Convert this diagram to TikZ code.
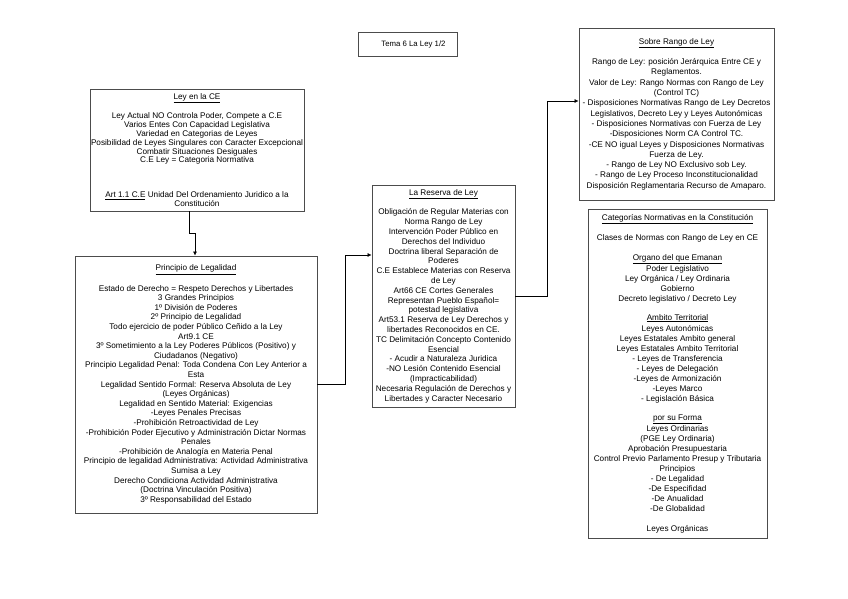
\documentclass[tikz,border=0pt]{standalone}
\usepackage{fontspec}
\setmainfont{Liberation Sans}
\usetikzlibrary{arrows.meta}

\tikzset{
  box/.style={draw=black!70, line width=0.9pt, align=center, inner xsep=0pt, inner ysep=1pt},
  link/.style={draw=black, line width=0.6pt, -{Latex[length=4pt,width=4pt]}}
}

\begin{document}
\begin{tikzpicture}[x=1pt,y=-1pt]
\useasboundingbox (0,0) rectangle (848,599);

\node[box, minimum width=99pt, minimum height=24pt, font=\fontsize{7.8}{9}\selectfont] (tema) at (407.5,44) {\hspace*{12pt}Tema 6 La Ley 1/2};

\node[box, minimum width=214pt, minimum height=122pt, font=\fontsize{8.2}{8.8}\selectfont] (ley) at (197,150) {\underline{Ley en la CE}\\[8.8pt]
Ley Actual NO Controla Poder, Compete a C.E\\
Varios Entes Con Capacidad Legislativa\\
Variedad en Categorias de Leyes\\
Posibilidad de Leyes Singulares con Caracter Excepcional\\
Combatir Situaciones Desiguales\\
C.E Ley = Categoria Normativa\\[26pt]
\underline{Art 1.1 C.E} Unidad Del Ordenamiento Juridico a la\\
Constitución};

\node[box, minimum width=242pt, minimum height=257pt, font=\fontsize{8.2}{9.6}\selectfont] (prin) at (196,384.5) {\underline{Principio de Legalidad}\\[9.6pt]
Estado de Derecho = Respeto Derechos y Libertades\\
3 Grandes Principios\\
1º División de Poderes\\
2º Principio de Legalidad\\
Todo ejercicio de poder Público Ceñido a la Ley\\
Art9.1 CE\\
3º Sometimiento a la Ley Poderes Públicos (Positivo) y\\
Ciudadanos (Negativo)\\
Principio Legalidad Penal: Toda Condena Con Ley Anterior a\\
Esta\\
Legalidad Sentido Formal: Reserva Absoluta de Ley\\
(Leyes Orgánicas)\\
Legalidad en Sentido Material: Exigencias\\
-Leyes Penales Precisas\\
-Prohibición Retroactividad de Ley\\
-Prohibición Poder Ejecutivo y Administración Dictar Normas\\
Penales\\
-Prohibición de Analogía en Materia Penal\\
Principio de legalidad Administrativa: Actividad Administrativa\\
Sumisa a Ley\\
Derecho Condiciona Actividad Administrativa\\
(Doctrina Vinculación Positiva)\\
3º Responsabilidad del Estado};

\node[box, minimum width=143pt, minimum height=222pt, font=\fontsize{8.2}{9.8}\selectfont] (res) at (443.5,296) {\underline{La Reserva de Ley}\\[9.8pt]
Obligación de Regular Materias con\\
Norma Rango de Ley\\
Intervención Poder Público en\\
Derechos del Individuo\\
Doctrina liberal Separación de\\
Poderes\\
C.E Establece Materias con Reserva\\
de Ley\\
Art66 CE Cortes Generales\\
Representan Pueblo Español=\\
potestad legislativa\\
Art53.1 Reserva de Ley Derechos y\\
libertades Reconocidos en CE.\\
TC Delimitación Concepto Contenido\\
Esencial\\
- Acudir a Naturaleza Juridica\\
-NO Lesión Contenido Esencial\\
(Impracticabilidad)\\
Necesaria Regulación de Derechos y\\
Libertades y Caracter Necesario};

\node[box, minimum width=195pt, minimum height=172pt, font=\fontsize{8.2}{10.3}\selectfont] (sob) at (676.5,114) {\underline{Sobre Rango de Ley}\\[10.3pt]
Rango de Ley: posición Jerárquica Entre CE y\\
Reglamentos.\\
Valor de Ley: Rango Normas con Rango de Ley\\
(Control TC)\\
- Disposiciones Normativas Rango de Ley Decretos\\
Legislativos, Decreto Ley y Leyes Autonómicas\\
- Disposiciones Normativas con Fuerza de Ley\\
-Disposiciones Norm CA Control TC.\\
-CE NO igual Leyes y Disposiciones Normativas\\
Fuerza de Ley.\\
- Rango de Ley NO Exclusivo sob Ley.\\
- Rango de Ley Proceso Inconstitucionalidad\\
Disposición Reglamentaria Recurso de Amaparo.};

\node[box, minimum width=179pt, minimum height=329pt, font=\fontsize{8.2}{10}\selectfont] (cat) at (677.5,373.5) {\underline{Categorías Normativas en la Constitución}\\[10pt]
Clases de Normas con Rango de Ley en CE\\[10pt]
\underline{Organo del que Emanan}\\[1pt]
Poder Legislativo\\
Ley Orgánica / Ley Ordinaria\\
Gobierno\\
Decreto legislativo / Decreto Ley\\[9pt]
\underline{Ambito Territorial}\\[1pt]
Leyes Autonómicas\\
Leyes Estatales Ambito general\\
Leyes Estatales Ambito Territorial\\
- Leyes de Transferencia\\
- Leyes de Delegación\\
-Leyes de Armonización\\
-Leyes Marco\\
- Legislación Básica\\[9pt]
\underline{por su Forma}\\[1pt]
Leyes Ordinarias\\
(PGE Ley Ordinaria)\\
Aprobación Presupuestaria\\
Control Previo Parlamento Presup y Tributaria\\
Principios\\
- De Legalidad\\
-De Especifidad\\
-De Anualidad\\
-De Globalidad\\[10pt]
Leyes Orgánicas};

\draw[link] ([xshift=-8pt]ley.south) -- ++(0,22) -| ([xshift=-1pt]prin.north);
\draw[link] (prin.east) -- ++(28,0) |- ([yshift=41pt]res.west);
\draw[link] (res.east) -- ++(32,0) |- ([yshift=13pt]sob.west);
\end{tikzpicture}
\end{document}
